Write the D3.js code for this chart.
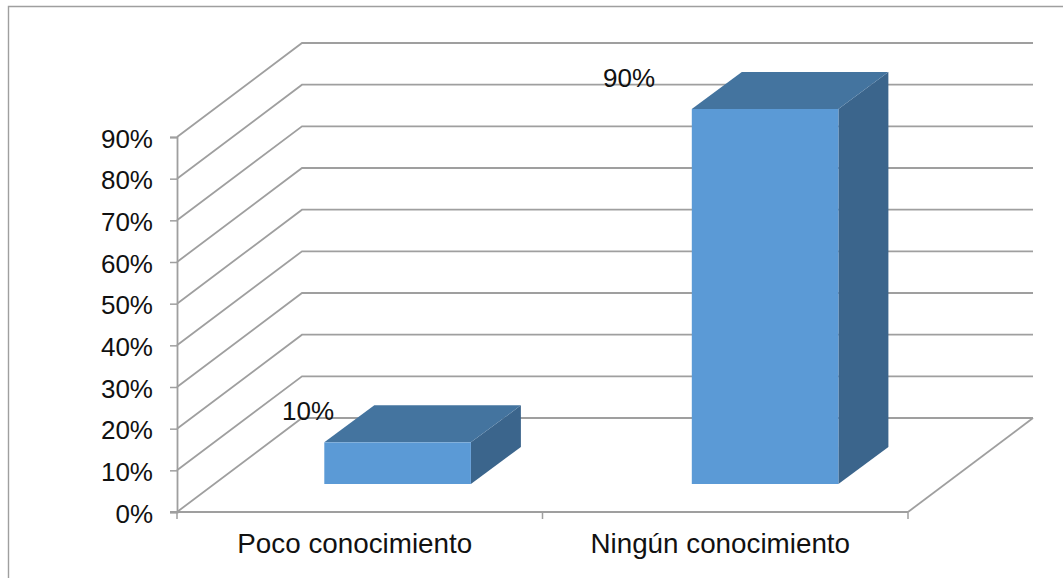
<!DOCTYPE html>
<html><head><meta charset="utf-8">
<script src="https://cdn.jsdelivr.net/npm/d3@7/dist/d3.min.js"></script>
<style>html,body{margin:0;padding:0;background:#fff}svg{display:block}text{font-family:"Liberation Sans",Arial,sans-serif;fill:#111}</style>
</head><body><svg id="c" width="1063" height="578"></svg>
<script>
const categories = ["Poco conocimiento", "Ningún conocimiento"];
const seriesValues = [10, 90];
const tickLabels = [0, 10, 20, 30, 40, 50, 60, 70, 80, 90];

const svg = d3.select("#c");
const grey = "#9f9f9f";
const depthX = 125, depthY = -94, barDX = 50, barDY = -37, barBaseOffset = -28;

const y = d3.scaleLinear().domain([0, 90]).range([512, 137]);
const x = d3.scaleBand().domain(categories).range([177, 908]);
const barLeft = d3.scalePoint().domain(categories).range([324.3, 691.8]);
const barW = 146.6;
const line = d3.line();

// chart frame: top and left edges are what the crop shows
svg.append("path").attr("d", line([[8.5, 578], [8.5, 6.5], [1063, 6.5]]))
  .attr("fill", "none").attr("stroke", grey).attr("stroke-width", 1.4);

// walls
const walls = svg.append("g").attr("fill", "none").attr("stroke", grey).attr("stroke-width", 1.8);
tickLabels.forEach(t => {
  walls.append("path").attr("d", line([[177, y(t)], [177 + depthX, y(t) + depthY], [908 + depthX, y(t) + depthY]]));
});
walls.append("path").attr("d", line([[908, y(0)], [908 + depthX, y(0) + depthY]]));

// axes
const axisY = d3.axisLeft(y).tickValues(tickLabels).tickFormat(d => d + "%").tickSize(7).tickPadding(17);
const gy = svg.append("g").attr("transform", "translate(177,0)").call(axisY);
gy.selectAll("path").attr("stroke", grey).attr("stroke-width", 1.8);
gy.selectAll("line").attr("stroke", grey).attr("stroke-width", 1.5);
gy.selectAll("text").attr("font-size", 26).attr("fill", "#111").attr("dy", "0.39em");
svg.append("path").attr("d", line([[170, y(0)], [908, y(0)]])).attr("fill", "none").attr("stroke", grey).attr("stroke-width", 2);
const catTicks = svg.append("g");
[x.range()[0], ...categories.map(c => x(c) + x.bandwidth())].forEach(v => {
  catTicks.append("path").attr("d", line([[v, y(0)], [v, y(0) + 7]])).attr("stroke", grey).attr("stroke-width", 1.5);
});
categories.forEach(c => {
  svg.append("text").attr("x", x(c) + x.bandwidth() / 2 - 5).attr("y", 553)
    .attr("text-anchor", "middle").attr("font-size", 27.8).text(c);
});

// bars
const labelPos = [[308, 420], [629, 87]];
categories.forEach((c, i) => {
  const v = seriesValues[i];
  const x0 = barLeft(c);
  const x1 = x0 + barW;
  const y0 = y(0) + barBaseOffset;
  const yt = y0 - (y(0) - y(v));
  const g = svg.append("g");
  g.append("path").attr("fill", "#3b658c").attr("d", line([[x1, yt], [x1 + barDX, yt + barDY], [x1 + barDX, y0 + barDY], [x1, y0]]) + "Z");
  g.append("path").attr("fill", "#44749f").attr("d", line([[x0, yt], [x0 + barDX, yt + barDY], [x1 + barDX, yt + barDY], [x1, yt]]) + "Z");
  g.append("rect").attr("x", x0).attr("y", yt).attr("width", barW).attr("height", y0 - yt).attr("fill", "#5b9ad6");
  svg.append("text").attr("x", labelPos[i][0]).attr("y", labelPos[i][1]).attr("text-anchor", "middle").attr("font-size", 26).text(v + "%");
});
</script></body></html>
